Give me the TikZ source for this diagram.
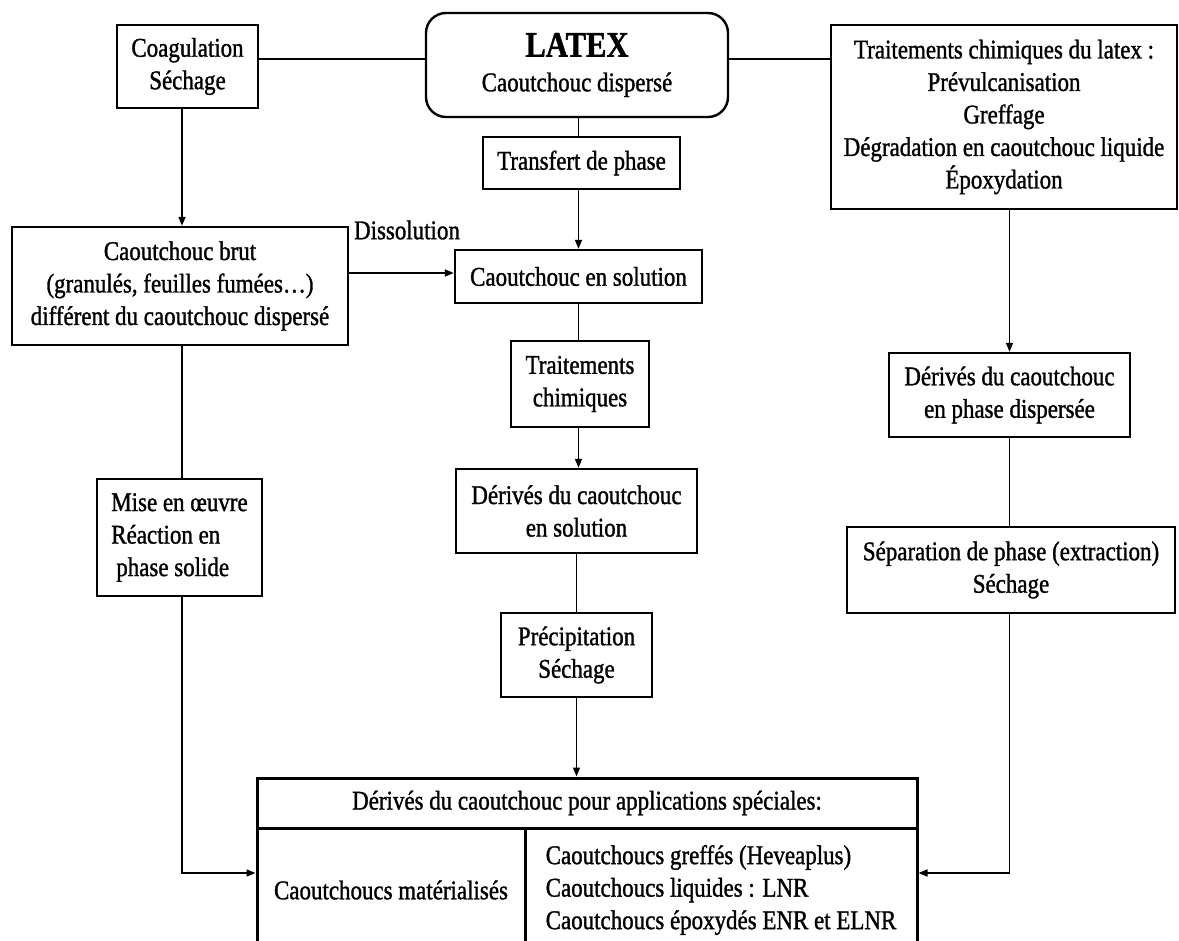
\documentclass[tikz,border=0pt]{standalone}
\usepackage{fontspec}
\setmainfont[FakeStretch=0.85,FakeBold=1.2]{Liberation Serif}
\usetikzlibrary{arrows.meta}
\begin{document}
\begin{tikzpicture}[x=1pt,y=-1pt,
  font=\fontsize{27}{32.5}\selectfont,
  box/.style={draw,line width=2.4pt,inner sep=0pt,align=center},
  conn/.style={line width=1.6pt},
  arr/.style={line width=1.6pt,-{Triangle[length=9pt,width=7pt]}},
  cell/.style={draw,line width=3pt,inner sep=0pt}]
\useasboundingbox (0,0) rectangle (1179,941);
\clip (0,0) rectangle (1179,941);
% nodes
\node[box,minimum width=141,minimum height=83] (coag) at (187.5,66.5) {Coagulation\\Séchage};
\node[box,rounded corners=20pt,minimum width=302,minimum height=104] (latex) at (577,65)
  {{\fontsize{36}{40}\selectfont\bfseries LATEX}\\[2pt]Caoutchouc dispersé};
\node[box,minimum width=346,minimum height=184] (trait) at (1004,117)
  {Traitements chimiques du latex :\\Prévulcanisation\\Greffage\\Dégradation en caoutchouc liquide\\Époxydation};
\node[box,minimum width=197,minimum height=52] (transfert) at (581.5,163) {Transfert de phase};
\node[box,minimum width=336,minimum height=118] (brut) at (180,286)
  {Caoutchouc brut\\(granulés, feuilles fumées…)\\différent du caoutchouc dispersé};
\node[box,minimum width=247,minimum height=53] (sol) at (578.5,276.5) {Caoutchouc en solution};
\node (diss) at (407,230) {Dissolution};
\node[box,minimum width=138,minimum height=86] (tc) at (580,384) {Traitements\\chimiques};
\node[box,minimum width=241,minimum height=84] (ders) at (576.5,511) {Dérivés du caoutchouc\\en solution};
\node[box,minimum width=151,minimum height=84] (precip) at (576.5,655) {Précipitation\\Séchage};
\node[box,minimum width=165,minimum height=117,align=left] (mise) at (179.5,537.5)
  {Mise en œuvre\\Réaction en\\\hspace*{5pt}phase solide};
\node[box,minimum width=241,minimum height=84] (derd) at (1009.5,395) {Dérivés du caoutchouc\\en phase dispersée};
\node[box,minimum width=328,minimum height=86] (sep) at (1011,570) {Séparation de phase (extraction)\\Séchage};
% bottom table
\node[cell,minimum width=660,minimum height=50] (bhead) at (587,803) {Dérivés du caoutchouc pour applications spéciales:};
\node[cell,minimum width=268,minimum height=124] (bl) at (391,890) {Caoutchoucs matérialisés};
\node[cell,minimum width=392,minimum height=124,align=left] (br) at (721,890)
  {Caoutchoucs greffés (Heveaplus)\\Caoutchoucs liquides : LNR\\Caoutchoucs époxydés ENR et ELNR};
% helper coordinates
\coordinate (hl) at (0,59);
\coordinate (cl) at (182,0);
\coordinate (ar) at (0,873);
% connectors
\draw[conn] (coag.east |- hl) -- (latex.west |- hl);
\draw[conn] (latex.east |- hl) -- (trait.west |- hl);
\draw[arr] (coag.south -| cl) -- (brut.north -| cl);
\draw[conn] (latex.south -| sol.north) -- (transfert.north -| sol.north);
\draw[arr] (transfert.south -| sol.north) -- (sol.north);
\draw[arr] (brut.east |- 0,273) -- (sol.west |- 0,273);
\draw[conn] (sol.south) -- (tc.north -| sol.south);
\draw[arr] (tc.south -| sol.south) -- (ders.north -| sol.south);
\draw[conn] (ders.south) -- (precip.north -| ders.south);
\draw[arr] (precip.south -| ders.south) -- (bhead.north -| ders.south);
\draw[arr] (trait.south -| derd.north) -- (derd.north);
\draw[conn] (derd.south) -- (sep.north -| derd.south);
\draw[arr] (sep.south -| derd.south) -- (derd.south |- ar) -- (br.east |- ar);
\draw[conn] (brut.south -| cl) -- (mise.north -| cl);
\draw[arr] (mise.south -| cl) -- (cl |- ar) -- (bl.west |- ar);
\end{tikzpicture}
\end{document}
